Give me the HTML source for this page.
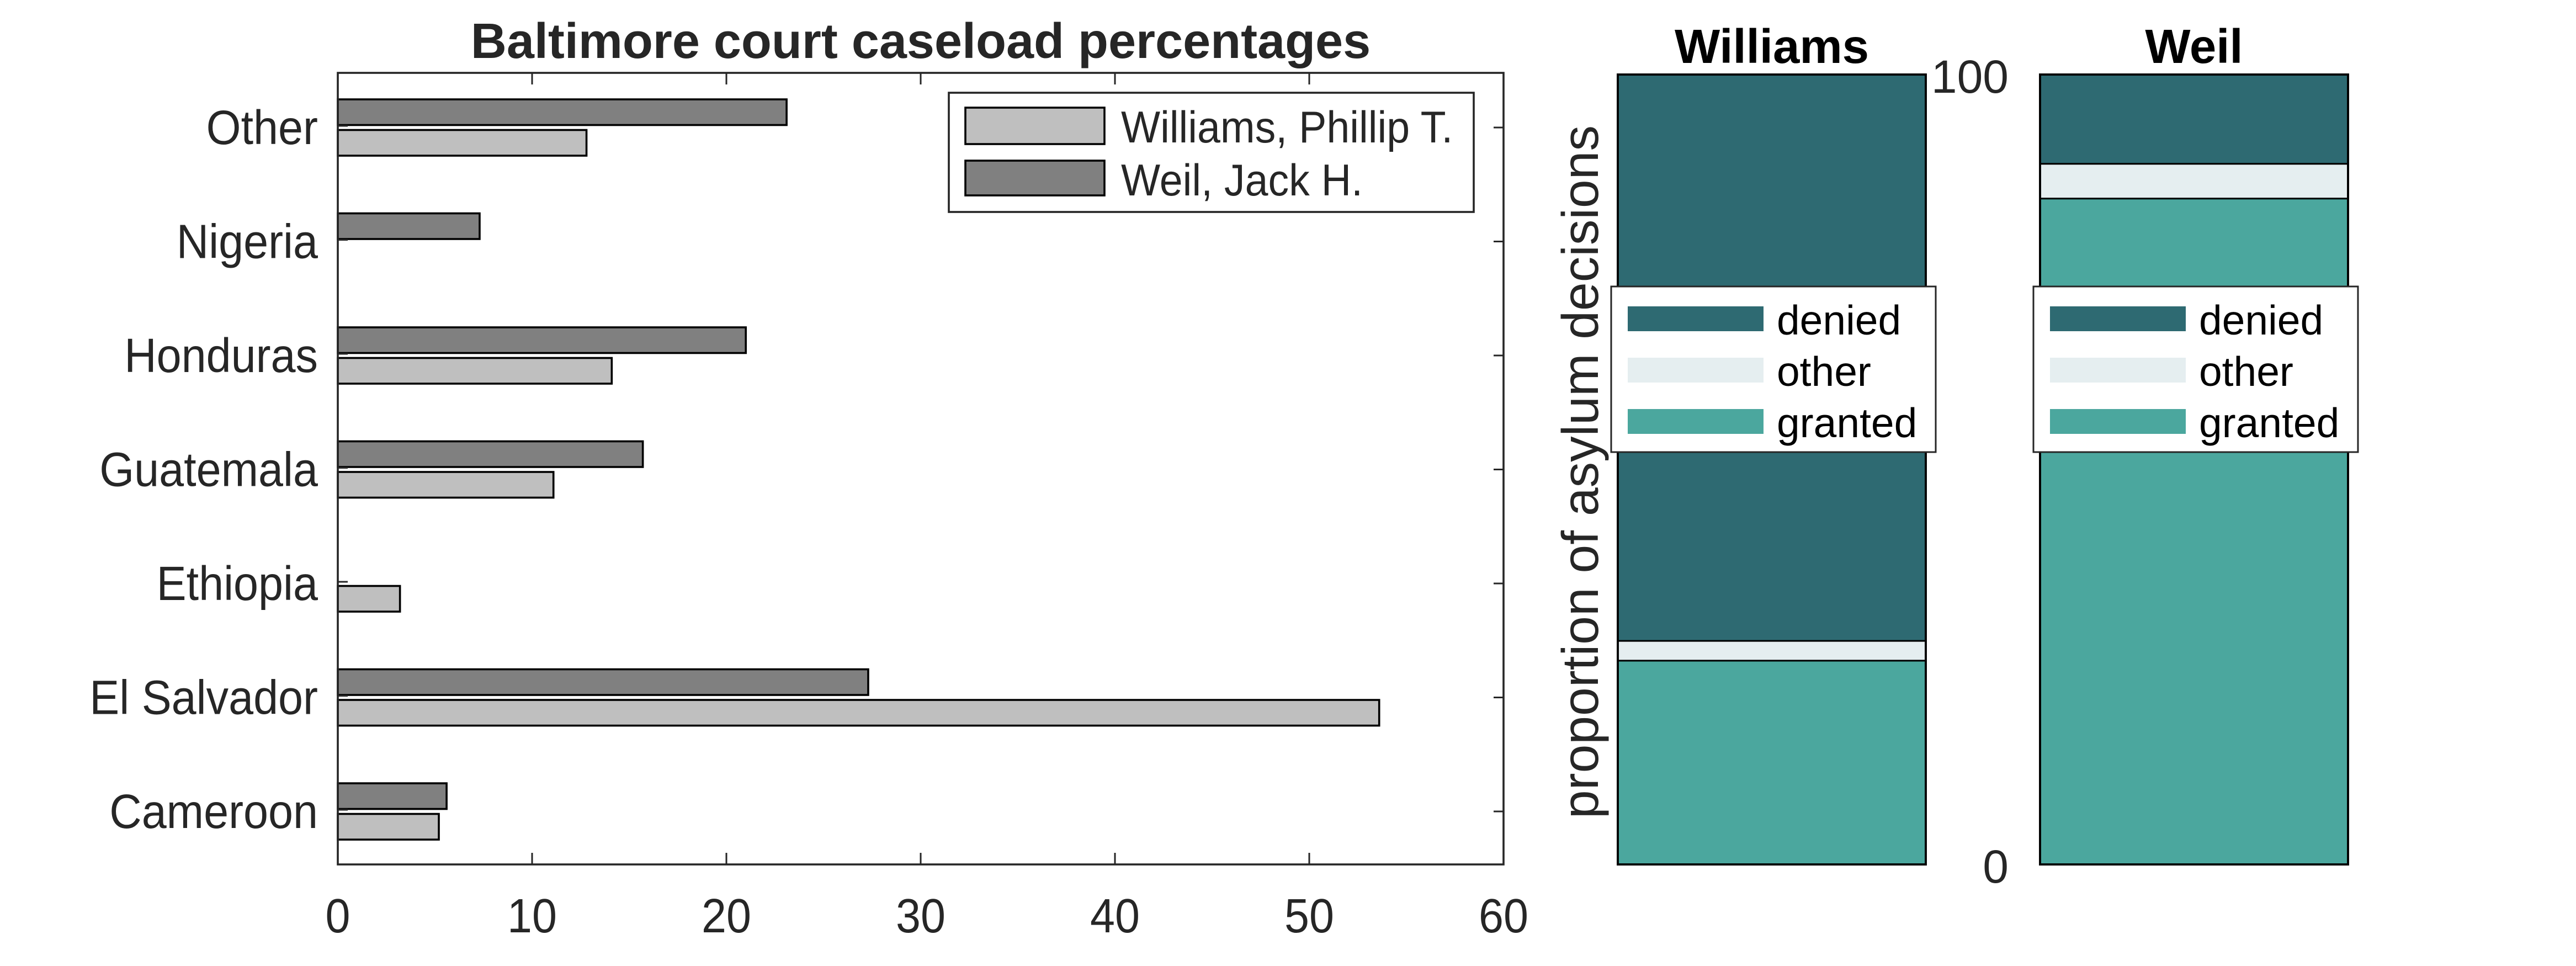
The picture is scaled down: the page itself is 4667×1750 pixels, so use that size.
<!DOCTYPE html>
<html><head><meta charset="utf-8"><style>
html,body{margin:0;padding:0;background:#fff;width:4667px;height:1750px;overflow:hidden}
svg{display:block}
.n{font-family:"Liberation Sans Narrow","Liberation Sans",sans-serif;fill:#262626}
.s{font-family:"Liberation Sans",sans-serif}
</style></head><body>
<svg id="chart" width="4667" height="1750" viewBox="0 0 1555.67 583.33" xmlns="http://www.w3.org/2000/svg">
<g id="left"></g>
<g id="right"></g>
</svg>
<script>
const categories = ["Other","Nigeria","Honduras","Guatemala","Ethiopia","El Salvador","Cameroon"];
const williamsValues = [12.8, 0, 14.1, 11.1, 3.2, 53.6, 5.2];
const weilValues = [23.1, 7.3, 21.0, 15.7, 0, 27.3, 5.6];
const xTicks = [0,10,20,30,40,50,60];
const judges = ["Williams","Weil"];
const grantedPct = [25.8, 84.3];
const otherPct = [2.5, 4.4];
const deniedPct = [71.7, 11.3];
const outcomeLabels = ["denied","other","granted"];

const NS="http://www.w3.org/2000/svg";
function mk(parent,tag,attrs,text){const e=document.createElementNS(NS,tag);for(const k in attrs)e.setAttribute(k,attrs[k]);if(text!==undefined)e.textContent=text;parent.appendChild(e);return e;}
function ntext(parent,x,y,sx,attrs,str){
  const a=Object.assign({x:0,y:0,transform:'translate('+x+','+y+') scale('+sx+',1)'},attrs);
  return mk(parent,'text',a,str);
}

// left chart
const L=document.getElementById('left');
const ax={x0:204,x1:908,y0:44,y1:522};
const xs=v=>ax.x0+(v-0)/(60-0)*(ax.x1-ax.x0);
const catY=i=>77+i*(490-77)/6;
const bh=15.5;
let t=ntext(L,556,35,1.0,{'text-anchor':'middle','font-size':30,'font-weight':'bold',class:'n',fill:'#000'},'Baltimore court caseload percentages');


categories.forEach((c,i)=>{
  const y=catY(i);
  const r1=mk(L,'rect',{x:xs(0),y:y-bh-1.5,width:xs(weilValues[i])-xs(0),height:bh,fill:'#808080',stroke:'#000','stroke-width':1.2});
  
  
  const r2=mk(L,'rect',{x:xs(0),y:y+1.5,width:xs(williamsValues[i])-xs(0),height:bh,fill:'#bfbfbf',stroke:'#000','stroke-width':1.2});
  
  
  mk(L,'line',{x1:ax.x1,x2:ax.x1-6,y1:y,y2:y,stroke:'#262626','stroke-width':1});
  mk(L,'line',{x1:ax.x0,x2:ax.x0+6,y1:y-1,y2:y-1,stroke:'#262626','stroke-width':1});
  const lb=ntext(L,ax.x0-12,y+10,0.93,{'text-anchor':'end','font-size':29,class:'n'},c);
  
  
});
xTicks.forEach(v=>{
  const x=xs(v);
  mk(L,'line',{x1:x,x2:x,y1:ax.y1,y2:ax.y1-7,stroke:'#262626','stroke-width':1});
  mk(L,'line',{x1:x,x2:x,y1:ax.y0,y2:ax.y0+7,stroke:'#262626','stroke-width':1});
  const tl=ntext(L,x,563,0.93,{'text-anchor':'middle','font-size':29,class:'n'},String(v));
  
  
});
const fr=mk(L,'rect',{x:ax.x0,y:ax.y0,width:ax.x1-ax.x0,height:ax.y1-ax.y0,fill:'none',stroke:'#262626','stroke-width':1.2});


const lg=mk(L,'g',{});


mk(lg,'rect',{x:573,y:56,width:317,height:72,fill:'#fff',stroke:'#262626','stroke-width':1.2});
mk(lg,'rect',{x:583,y:65,width:84,height:22,fill:'#bfbfbf',stroke:'#000','stroke-width':1.2});
mk(lg,'rect',{x:583,y:97,width:84,height:21,fill:'#808080',stroke:'#000','stroke-width':1.2});
ntext(lg,677,86,0.93,{'font-size':27,class:'n',fill:'#000'},'Williams, Phillip T.');
ntext(lg,677,118,0.93,{'font-size':27,class:'n',fill:'#000'},'Weil, Jack H.');

// right chart
const R=document.getElementById('right');
const pTop=45,pBot=522;
const ys=p=>pBot-p/100*(pBot-pTop);
const panelX=[977,1232],panelW=186;
judges.forEach((j,k)=>{
  const x=panelX[k];
  const g=mk(R,'g',{});
  
  
  const segs=[[grantedPct[k],'#4ba79e','granted'],[otherPct[k],'#e5eef0','other'],[deniedPct[k],'#2e6a72','denied']];
  let acc=0;
  segs.forEach(s=>{
    const r=mk(g,'rect',{x:x,y:ys(acc+s[0]),width:panelW,height:ys(acc)-ys(acc+s[0]),fill:s[1],stroke:'#000','stroke-width':1});
    
    
    acc+=s[0];
  });
  mk(g,'rect',{x:x,y:pTop,width:panelW,height:pBot-pTop,fill:'none',stroke:'#000','stroke-width':1.3});
  const tt=mk(g,'text',{x:x+panelW/2,y:38,'text-anchor':'middle','font-size':29,'font-weight':'bold',class:'s',fill:'#000'},j);
  
  
  const lx=x-4;
  const leg=mk(g,'g',{});
  
  
  mk(leg,'rect',{x:lx,y:173,width:196,height:100,fill:'#fff',stroke:'#262626','stroke-width':1});
  const cols=['#2e6a72','#e5eef0','#4ba79e'];
  outcomeLabels.forEach((o,i)=>{
    const yy=185+i*31;
    mk(leg,'rect',{x:lx+10,y:yy,width:82,height:15,fill:cols[i]});
    mk(leg,'text',{x:lx+100,y:yy+17,'font-size':25,class:'s',fill:'#000'},o);
  });
});
let a=mk(R,'text',{x:1213,y:56,'text-anchor':'end','font-size':28,class:'s',fill:'#262626'},'100');


a=mk(R,'text',{x:1213,y:533,'text-anchor':'end','font-size':28,class:'s',fill:'#262626'},'0');


a=mk(R,'text',{x:0,y:0,'text-anchor':'middle','font-size':31,class:'s',fill:'#262626',transform:'translate(965,285) rotate(-90)'},'proportion of asylum decisions');


</script>
</body></html>
